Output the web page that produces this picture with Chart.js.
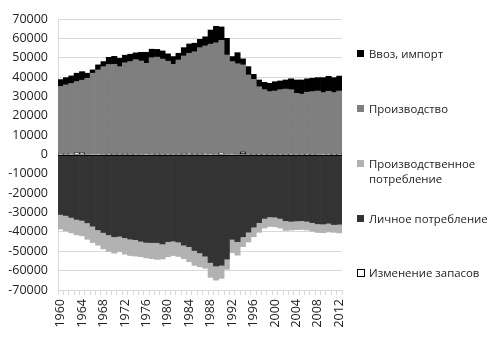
<!DOCTYPE html>
<html>
<head>
<meta charset="utf-8">
<script src="https://cdn.jsdelivr.net/npm/chart.js@4"></script>
<style>
  body { margin: 0; background: #fff; }
  #wrap { position: relative; width: 500px; height: 351px; }
  .leg { position: absolute; left: 357px; font: 11.4px "Open Sans", sans-serif; color: #222; line-height: 15px; }
  .leg i { position: absolute; left: 0; top: 4px; width: 7px; height: 7px; }
  .leg span { display: block; margin-left: 12px; }
</style>
</head>
<body>
<div id="wrap">
  <canvas id="chart" width="500" height="351"></canvas>
</div>
<script>
const years = [];
for (let y = 1960; y <= 2012; y++) years.push(String(y));

const importValues = [3500, 3700, 3900, 4300, 4400, 2600, 1700, 2600, 2600, 3700, 4100,
  4300, 3900, 3800, 3500, 4500, 5700, 4400, 4000, 4200, 3800,
  4000, 3500, 4300, 4800, 4400, 4300, 4700, 7300, 8500, 6900,
  8600, 2600, 5700, 3100, 4300, 2600, 3500, 3800, 4300, 4800,
  4500, 4700, 5600, 6900, 7300, 6900, 6900, 6900, 7700, 7700,
  7700, 7700];

const production = [35000, 35700, 36300, 36800, 37600, 39400, 42000, 43700, 45400, 46300, 46300,
  45400, 47100, 48000, 48800, 48300, 47100, 49800, 50000, 49300, 48000,
  46600, 48800, 50600, 51800, 53100, 54900, 55700, 57000, 57500, 58300,
  51400, 48000, 46600, 44900, 41100, 38500, 35000, 33300, 32500, 32800,
  33300, 33800, 33300, 31600, 31200, 32000, 32500, 32800, 32000, 32500,
  32000, 32500];

const productiveUse = [-7500, -8000, -8000, -8000, -8000, -8500, -8500, -8000, -8500, -8500, -8500,
  -8000, -8500, -8500, -8500, -8000, -8000, -8300, -8700, -7800, -7800,
  -7500, -7500, -7000, -7800, -7700, -7200, -6300, -7700, -7300, -6800,
  -5300, -6900, -7000, -5100, -5100, -5000, -5000, -5000, -5000, -5000,
  -5000, -5000, -4500, -4500, -4500, -4500, -4500, -4500, -4500, -4500,
  -4000, -4500];

const personalUse = [-31000, -31500, -32500, -33500, -34000, -35000, -36500, -38500, -40000, -41500, -42500,
  -42000, -43000, -43500, -44000, -44500, -45000, -45500, -45500, -46000, -45000,
  -44400, -45000, -46800, -47600, -49400, -50800, -52500, -55400, -57600, -57200,
  -53700, -43300, -45000, -42500, -39900, -37500, -35000, -33000, -32000, -32000,
  -33000, -34000, -34500, -34000, -34000, -34500, -35000, -35500, -35500, -35500,
  -36000, -36000];

const stockChange = [200, 300, 400, 900, 800, -300, -500, -400, -300, 200, 300,
  -200, 300, -200, 200, -300, -400, 200, 300, -200, 200,
  -300, -200, 300, 500, -200, 300, 400, -400, 200, 700,
  -300, -500, 300, 1400, -200, 300, -200, 200, -200, -300,
  200, -200, 200, -300, -200, 200, -200, -300, -400, 200,
  -200, 300];

const yTicks = [-70000, -60000, -50000, -40000, -30000, -20000, -10000, 0,
  10000, 20000, 30000, 40000, 50000, 60000, 70000];

const series = [
  { label: 'Изменение запасов', data: stockChange, color: '#ffffff', border: '#000000' },
  { label: 'Личное потребление', data: personalUse, color: '#333333' },
  { label: 'Производственное потребление', data: productiveUse, color: '#b2b2b2' },
  { label: 'Производство', data: production, color: '#7f7f7f' },
  { label: 'Ввоз, импорт', data: importValues, color: '#000000' }
];

// legend like the excel one, top series first
const legendRows = [
  { i: 4, top: 46, text: ['Ввоз, импорт'] },
  { i: 3, top: 101, text: ['Производство'] },
  { i: 2, top: 156, text: ['Производственное', 'потребление'] },
  { i: 1, top: 211, text: ['Личное потребление'] },
  { i: 0, top: 265, text: ['Изменение запасов'] }
];
const wrap = document.getElementById('wrap');
legendRows.forEach(r => {
  const s = series[r.i];
  const d = document.createElement('div');
  d.className = 'leg';
  d.style.top = r.top + 'px';
  const box = document.createElement('i');
  box.style.background = s.color;
  if (s.border) box.style.border = '1px solid ' + s.border, box.style.width = '6px', box.style.height = '6px';
  d.appendChild(box);
  r.text.forEach(t => {
    const sp = document.createElement('span');
    sp.textContent = t;
    d.appendChild(sp);
  });
  wrap.appendChild(d);
});

const zeroLine = {
  id: 'zeroLine',
  afterDatasetsDraw(chart) {
    const { ctx, chartArea, scales } = chart;
    const y = Math.round(scales.y.getPixelForValue(0)) + 0.5;
    ctx.save();
    ctx.strokeStyle = '#000';
    ctx.lineWidth = 1;
    ctx.beginPath();
    ctx.moveTo(chartArea.left, y);
    ctx.lineTo(chartArea.right, y);
    ctx.stroke();
    ctx.restore();
  }
};

const font = { family: '"Open Sans", sans-serif', size: 12.5 };

new Chart(document.getElementById('chart'), {
  type: 'bar',
  data: {
    labels: years,
    datasets: series.map(s => ({
      label: s.label,
      data: s.data,
      backgroundColor: s.color,
      borderColor: s.border || s.color,
      borderWidth: s.border ? 1 : 0,
      borderSkipped: false,
      categoryPercentage: 1,
      barPercentage: 1
    }))
  },
  options: {
    responsive: false,
    animation: false,
    layout: { padding: { top: 19, right: 158, bottom: 0, left: 0 } },
    plugins: { legend: { display: false }, tooltip: { enabled: false } },
    scales: {
      x: {
        stacked: true,
        afterFit: s => { s.height = 61; },
        grid: { drawOnChartArea: false, drawTicks: true, tickLength: 5, color: '#d9d9d9' },
        border: { color: '#d9d9d9' },
        ticks: {
          autoSkip: false, minRotation: 90, maxRotation: 90, padding: 4,
          color: '#222', font: font,
          callback: function (v, i) { const l = years[i]; return (+l) % 4 === 0 ? l : ''; }
        }
      },
      y: {
        stacked: true,
        min: yTicks[0],
        max: yTicks[yTicks.length - 1],
        afterFit: s => { s.width = 58; },
        afterBuildTicks: s => { s.ticks = yTicks.map(v => ({ value: v })); },
        grid: { drawTicks: false, color: '#d9d9d9' },
        border: { color: '#d9d9d9' },
        ticks: { padding: 10, color: '#222', font: font, callback: v => String(v) }
      }
    }
  },
  plugins: [zeroLine]
});
</script>
</body>
</html>
